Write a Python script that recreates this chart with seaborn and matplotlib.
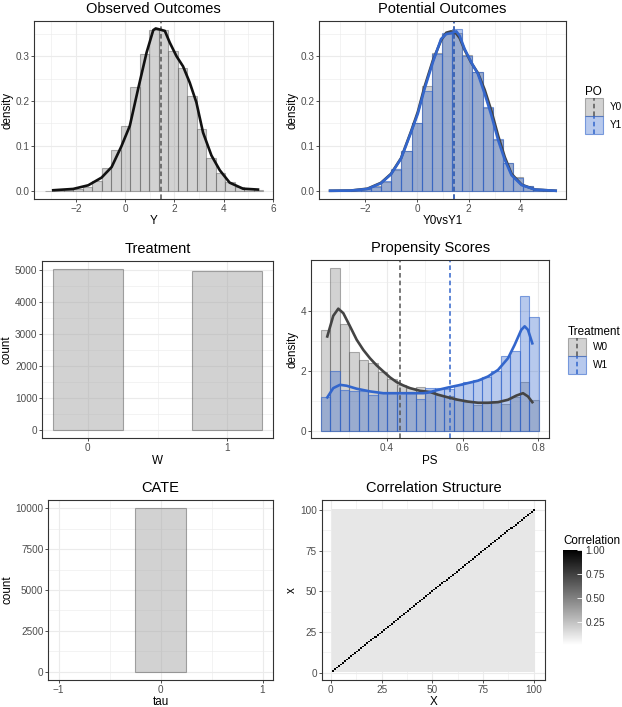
import numpy as np
import pandas as pd
import matplotlib
matplotlib.use("Agg")
import matplotlib.pyplot as plt
import seaborn as sns
from matplotlib.patches import Patch, Rectangle
from matplotlib.lines import Line2D
from matplotlib.legend_handler import HandlerBase
from matplotlib.colors import LinearSegmentedColormap
from matplotlib.ticker import MultipleLocator, FixedLocator

# ------------------------------------------------------------------ data
# Observed outcomes (density histogram, kde, mean)
obs_bin_start = -3.26
obs_bin_width = 0.385
obs_density = [0.0005, 0.001, 0.002, 0.004, 0.008, 0.023, 0.050, 0.091, 0.145,
               0.232, 0.305, 0.359, 0.358, 0.311, 0.274, 0.212, 0.137, 0.073,
               0.039, 0.020, 0.009, 0.004, 0.0015]
obs_kde_x = [-2.92, -2.11, -1.50, -0.96, -0.55, -0.15, 0.19, 0.53, 0.87, 1.14,
             1.24, 1.41, 1.61, 1.81, 2.08, 2.35, 2.62, 2.89, 3.16, 3.50, 3.84,
             4.24, 4.78, 5.39]
obs_kde_y = [0.0015, 0.0044, 0.0125, 0.0295, 0.053, 0.0996, 0.145, 0.228, 0.308,
             0.3577, 0.3614, 0.359, 0.356, 0.330, 0.300, 0.277, 0.241, 0.197,
             0.130, 0.079, 0.046, 0.0184, 0.005, 0.003]
obs_mean = 1.45

# Potential outcomes
po_groups = ["Y0", "Y1"]
po_bin_start = -3.36
po_bin_width = 0.393
po_y0_density = [0.0005, 0.001, 0.003, 0.005, 0.010, 0.020, 0.047, 0.088, 0.150,
                 0.234, 0.307, 0.350, 0.352, 0.303, 0.264, 0.185, 0.113, 0.062,
                 0.030, 0.011, 0.004, 0.001]
po_y1_density = [0.0005, 0.001, 0.002, 0.004, 0.009, 0.021, 0.049, 0.089, 0.151,
                 0.223, 0.305, 0.351, 0.361, 0.301, 0.265, 0.187, 0.116, 0.063,
                 0.029, 0.010, 0.004, 0.001]
po_kde_x = [-3.37, -2.57, -1.92, -1.40, -1.01, -0.62, -0.23, 0.03, 0.29, 0.61,
            0.93, 1.13, 1.32, 1.52, 1.65, 1.84, 2.10, 2.36, 2.62, 2.88, 3.14,
            3.40, 3.66, 4.05, 4.57, 5.37]
po_y0_kde = [0.0003, 0.0008, 0.005, 0.018, 0.038, 0.073, 0.133, 0.176, 0.232,
             0.290, 0.335, 0.352, 0.355, 0.350, 0.340, 0.314, 0.285, 0.262,
             0.225, 0.178, 0.123, 0.075, 0.038, 0.014, 0.003, 0.0003]
po_y1_kde = [0.0003, 0.0007, 0.0044, 0.017, 0.037, 0.072, 0.131, 0.172, 0.227,
             0.286, 0.338, 0.349, 0.351, 0.355, 0.345, 0.316, 0.286, 0.260,
             0.216, 0.168, 0.113, 0.069, 0.035, 0.013, 0.003, 0.0003]
po_means = [1.43, 1.43]

# Treatment counts
w_levels = ["0", "1"]
w_counts = [5030, 4970]

# Propensity scores
ps_groups = ["W0", "W1"]
ps_bin_start = 0.2265
ps_bin_width = 0.025
ps_w0_density = [3.38, 5.45, 3.57, 2.65, 2.37, 2.26, 1.98, 1.74, 1.54, 1.43, 1.47,
                 1.30, 1.21, 1.18, 1.02, 0.98, 0.87, 0.98, 1.00, 0.89, 1.12, 1.63, 1.04]
ps_w1_density = [1.12, 2.02, 1.37, 1.32, 1.32, 1.21, 1.26, 1.26, 1.26, 1.26, 1.06,
                 1.45, 1.45, 1.40, 1.55, 1.64, 1.69, 1.79, 1.99, 2.49, 2.68, 4.50, 3.81]
ps_w0_kde_x = [0.2433, 0.259, 0.2723, 0.2855, 0.3032, 0.3208, 0.3383, 0.3559,
               0.3736, 0.391, 0.4087, 0.4264, 0.4438, 0.4615, 0.4879, 0.5143,
               0.5354, 0.5617, 0.5881, 0.6145, 0.6409, 0.6673, 0.6937, 0.720,
               0.742, 0.7597, 0.7728, 0.7842]
ps_w0_kde_y = [3.16, 3.85, 4.09, 3.94, 3.50, 3.05, 2.71, 2.43, 2.19, 1.99, 1.79,
               1.63, 1.52, 1.43, 1.34, 1.30, 1.21, 1.12, 1.04, 0.98, 0.94, 0.94,
               0.96, 1.04, 1.18, 1.26, 1.15, 0.96]
ps_w1_kde_x = [0.2433, 0.259, 0.2767, 0.2943, 0.3208, 0.3559, 0.391, 0.4264,
               0.4615, 0.4967, 0.509, 0.5354, 0.5617, 0.5881, 0.6145, 0.6409,
               0.6673, 0.6937, 0.720, 0.7376, 0.755, 0.764, 0.7728, 0.7842]
ps_w1_kde_y = [1.12, 1.43, 1.54, 1.51, 1.41, 1.32, 1.26, 1.26, 1.26, 1.26, 1.28,
               1.37, 1.45, 1.52, 1.60, 1.68, 1.82, 2.04, 2.43, 2.88, 3.38, 3.50,
               3.38, 2.93]
ps_means = [0.435, 0.567]

# CATE
tau_values = [0.0]
tau_counts = [10000]

# Correlation structure (100 covariates): diagonal 1, off-diagonal light level
n_vars = 100
corr_diag = 1.0
corr_offdiag = 0.11
corr_ticks = [0, 25, 50, 75, 100]

# ------------------------------------------------------------------ style
plt.rcParams["font.family"] = ["Liberation Sans", "DejaVu Sans"]
GREY = "#7f7f7f"
BLUE = "#3366cc"
FACE_A = 0.35
TICK_FS = 7.2
LAB_FS = 8.4
TITLE_FS = 10.5
W, H = 622, 707

fig = plt.figure(figsize=(W / 100, H / 100), dpi=100)


def add_ax(l, t, r, b):
    return fig.add_axes([l / W, 1 - b / H, (r - l) / W, (b - t) / H])


def style(ax, xmaj, xmin, ymaj, ymin, xlabel, ylabel, title):
    ax.set_facecolor("white")
    ax.set_axisbelow(True)
    for s in ax.spines.values():
        s.set_visible(True)
        s.set_color("#333333")
        s.set_linewidth(0.8)
    ax.xaxis.set_major_locator(xmaj)
    ax.xaxis.set_minor_locator(xmin)
    ax.yaxis.set_major_locator(ymaj)
    ax.yaxis.set_minor_locator(ymin)
    ax.grid(True, which="major", color="#ebebeb", linewidth=0.8)
    ax.grid(True, which="minor", color="#ebebeb", linewidth=0.4)
    ax.tick_params(which="major", length=2.0, width=0.6, color="#333333",
                   labelsize=TICK_FS, labelcolor="#4d4d4d", pad=1.5)
    ax.tick_params(which="minor", length=0)
    ax.set_xlabel(xlabel, fontsize=LAB_FS, labelpad=1)
    ax.set_ylabel(ylabel, fontsize=LAB_FS, labelpad=1.5)
    ax.set_title(title, fontsize=TITLE_FS, pad=6)


def rgba(c, a):
    return matplotlib.colors.to_rgba(c, a)


class KeyHandler(HandlerBase):
    def create_artists(self, legend, orig_handle, xdescent, ydescent, width,
                       height, fontsize, trans):
        rect = Rectangle((-xdescent, -ydescent), width, height,
                         facecolor=orig_handle.get_facecolor(),
                         edgecolor=orig_handle.get_edgecolor(),
                         linewidth=0.8, transform=trans)
        line = Line2D([-xdescent + width / 2] * 2, [-ydescent, -ydescent + height],
                      color=orig_handle.vline_color, linestyle=(0, (3.0, 2.0)),
                      linewidth=1.1, transform=trans)
        return [rect, line]


def make_legend(labels, faces, edges, lines, title, x, y):
    handles = []
    for f, e, l in zip(faces, edges, lines):
        p = Patch(facecolor=f, edgecolor=e)
        p.vline_color = l
        handles.append(p)
    leg = fig.legend(handles, labels, title=title, loc="upper left",
                     bbox_to_anchor=(x / W, 1 - y / H), frameon=False,
                     fontsize=TICK_FS, title_fontsize=LAB_FS, borderpad=0,
                     borderaxespad=0, labelspacing=0, handlelength=1.8,
                     handleheight=2.39, handletextpad=0.7, alignment="left",
                     handler_map={Patch: KeyHandler()})
    return leg


dash = (0, (3.0, 2.0))


def hist(ax, start, width, heights, face, edge):
    edges = list(start + width * np.arange(len(heights) + 1))
    centers = [(a + b) / 2 for a, b in zip(edges[:-1], edges[1:])]
    df = pd.DataFrame({"x": centers, "w": heights})
    sns.histplot(data=df, x="x", weights="w", bins=edges, ax=ax,
                 facecolor=face, edgecolor=edge, linewidth=0.8)


# ------------------------------------------------------------ Observed Outcomes
ax1 = add_ax(34, 21, 273, 199)
hist(ax1, obs_bin_start, obs_bin_width, obs_density,
     rgba(GREY, FACE_A), rgba("#555555", 0.45))
ax1.axvline(obs_mean, color="#555555", linestyle=dash, linewidth=1.1)
sns.lineplot(x=obs_kde_x, y=obs_kde_y, ax=ax1, color="#111111", linewidth=1.9)
ax1.set_xlim(-3.70, 6.0)
ax1.set_ylim(-0.018, 0.378)
style(ax1, MultipleLocator(2), MultipleLocator(1), MultipleLocator(0.1),
      MultipleLocator(0.05), "Y", "density", "Observed Outcomes")
ax1.yaxis.set_major_formatter(matplotlib.ticker.FormatStrFormatter("%.1f"))

# ------------------------------------------------------------ Potential Outcomes
ax2 = add_ax(319, 21, 566, 199)
hist(ax2, po_bin_start, po_bin_width, po_y0_density,
     rgba(GREY, FACE_A), rgba("#555555", 0.45))
hist(ax2, po_bin_start, po_bin_width, po_y1_density,
     rgba(BLUE, FACE_A), rgba(BLUE, 0.6))
ax2.axvline(po_means[0], color="#555555", linestyle=dash, linewidth=1.1)
ax2.axvline(po_means[1], color=BLUE, linestyle=dash, linewidth=1.1)
sns.lineplot(x=po_kde_x, y=po_y0_kde, ax=ax2, color="#444444", linewidth=1.9)
sns.lineplot(x=po_kde_x, y=po_y1_kde, ax=ax2, color=BLUE, linewidth=1.9)
ax2.set_xlim(-3.80, 5.77)
ax2.set_ylim(-0.018, 0.378)
style(ax2, MultipleLocator(2), MultipleLocator(1), MultipleLocator(0.1),
      MultipleLocator(0.05), "Y0vsY1", "density", "Potential Outcomes")
ax2.yaxis.set_major_formatter(matplotlib.ticker.FormatStrFormatter("%.1f"))
make_legend(po_groups, [rgba(GREY, FACE_A), rgba(BLUE, FACE_A)],
            [rgba("#555555", 0.45), rgba(BLUE, 0.6)], ["#555555", BLUE],
            "PO", 585, 86)

# ------------------------------------------------------------ Treatment
ax3 = add_ax(42.3, 261, 272.7, 438.3)
sns.barplot(x=w_levels, y=w_counts, ax=ax3, width=0.5,
            facecolor=rgba("#a6a6a6", 0.5), edgecolor=rgba("#555555", 0.5),
            linewidth=0.8)
ax3.set_xlim(-0.325, 1.325)
ax3.set_ylim(-251, 5282)
style(ax3, FixedLocator([0, 1]), FixedLocator([0.5]), MultipleLocator(1000),
      MultipleLocator(500), "W", "count", "Treatment")
ax3.set_xticklabels(w_levels)

# ------------------------------------------------------------ Propensity Scores
ax4 = add_ax(311, 260, 549.3, 438.3)
hist(ax4, ps_bin_start, ps_bin_width, ps_w0_density,
     rgba(GREY, FACE_A), rgba("#555555", 0.45))
hist(ax4, ps_bin_start, ps_bin_width, ps_w1_density,
     rgba(BLUE, FACE_A), rgba(BLUE, 0.6))
ax4.axvline(ps_means[0], color="#555555", linestyle=dash, linewidth=1.1)
ax4.axvline(ps_means[1], color=BLUE, linestyle=dash, linewidth=1.1)
sns.lineplot(x=ps_w0_kde_x, y=ps_w0_kde_y, ax=ax4, color="#444444", linewidth=1.9)
sns.lineplot(x=ps_w1_kde_x, y=ps_w1_kde_y, ax=ax4, color=BLUE, linewidth=1.9)
ax4.set_xlim(0.2003, 0.829)
ax4.set_ylim(-0.25, 5.72)
style(ax4, MultipleLocator(0.2), MultipleLocator(0.1), MultipleLocator(2),
      MultipleLocator(1), "PS", "density", "Propensity Scores")
ax4.xaxis.set_major_formatter(matplotlib.ticker.FormatStrFormatter("%.1f"))
make_legend(ps_groups, [rgba(GREY, FACE_A), rgba(BLUE, FACE_A)],
            [rgba("#555555", 0.45), rgba(BLUE, 0.6)], ["#555555", BLUE],
            "Treatment", 568, 326)

# ------------------------------------------------------------ CATE
ax5 = add_ax(48.3, 500, 272.7, 680)
cate_df = pd.DataFrame({"tau": tau_values, "n": tau_counts})
sns.histplot(data=cate_df, x="tau", weights="n", discrete=True, shrink=0.5, ax=ax5,
             facecolor=rgba("#a6a6a6", 0.5), edgecolor=rgba("#555555", 0.5),
             linewidth=0.8)
ax5.set_xlim(-1.1, 1.1)
ax5.set_ylim(-500, 10500)
style(ax5, MultipleLocator(1), MultipleLocator(0.5), MultipleLocator(2500),
      MultipleLocator(1250), "tau", "count", "CATE")

# ------------------------------------------------------------ Correlation
ax6 = add_ax(321.7, 500, 545, 680)
cax = add_ax(563, 550, 581.5, 645)
corr = np.full((n_vars, n_vars), corr_offdiag)
np.fill_diagonal(corr, corr_diag)
cmap = LinearSegmentedColormap.from_list("wb", ["#ffffff", "#000000"])
sns.heatmap(corr, ax=ax6, cbar_ax=cax, cmap=cmap, vmin=0.015, vmax=1.0,
            xticklabels=False, yticklabels=False)
ax6.set_xlim(-5.0, 105.0)
ax6.set_ylim(-5.1, 105.7)
pos = [t - 0.5 for t in corr_ticks]
minor = [(a + b) / 2 for a, b in zip(pos[:-1], pos[1:])]
style(ax6, FixedLocator(pos), FixedLocator(minor), FixedLocator(pos),
      FixedLocator(minor), "X", "x", "Correlation Structure")
ax6.set_xticklabels([str(t) for t in corr_ticks], rotation=0)
ax6.set_yticklabels([str(t) for t in corr_ticks], rotation=0)

cbar = ax6.collections[0].colorbar
cbar.outline.set_visible(False)
cbar.set_ticks([0.25, 0.5, 0.75, 1.0])
cbar.set_ticklabels(["0.25", "0.50", "0.75", "1.00"])
cax.tick_params(direction="in", length=3.5, width=0.6, color="white",
                labelsize=TICK_FS, labelcolor="#333333", pad=3)
cax.set_title("Correlation", loc="left", fontsize=LAB_FS, pad=4)

fig.savefig("out.png", dpi=100, facecolor="white")
